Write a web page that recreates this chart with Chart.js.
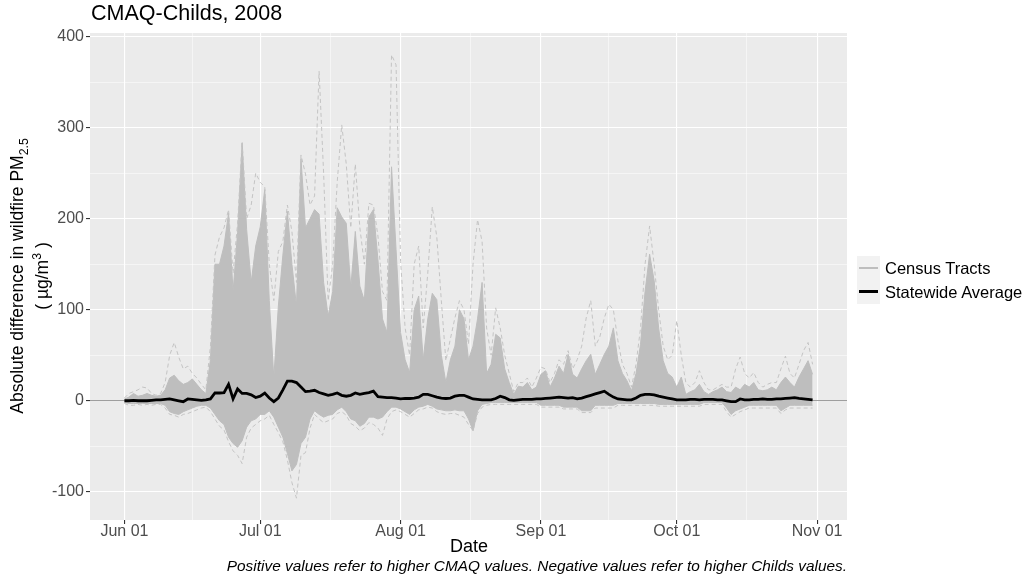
<!DOCTYPE html>
<html>
<head>
<meta charset="utf-8">
<script src="https://cdn.jsdelivr.net/npm/chart.js@4.4.1/dist/chart.umd.min.js"></script>
<style>
  body { margin: 0; background: #ffffff; font-family: "Liberation Sans", Arial, sans-serif; }
  #wrap { position: relative; width: 1029px; height: 586px; }
  #chart-box { position: absolute; left: 0; top: 0; width: 1029px; height: 586px; }
  .title { position: absolute; left: 91px; top: 1px; font-size: 21.5px; color: #000; white-space: nowrap; }
  .ytitle { position: absolute; left: -170px; top: 251px; width: 400px; height: 50px; line-height: 25px;
            text-align: center; font-size: 17.5px; color: #000; transform: rotate(-90deg); white-space: nowrap; }
  .ytitle sub, .ytitle sup { font-size: 70%; line-height: 0; }
  .xtitle { position: absolute; left: 369px; width: 200px; top: 536px; text-align: center; font-size: 18px; color: #000; }
  .caption { position: absolute; right: 182px; top: 557px; font-size: 15.4px; font-style: italic; color: #000; white-space: nowrap; }
  .legend { position: absolute; left: 857px; top: 256px; }
  .legend .row { display: flex; align-items: center; height: 24px; }
  .legend .key { width: 23px; height: 24px; background: #f2f2f2; position: relative; }
  .legend .key span { position: absolute; left: 2px; right: 2px; top: 11px; }
  .legend .lab { margin-left: 5px; font-size: 16.5px; color: #000; white-space: nowrap; }
</style>
</head>
<body>
<div id="wrap">
  <div id="chart-box"><canvas id="chart-diff"></canvas></div>
  <div class="title">CMAQ-Childs, 2008</div>
  <div class="ytitle">Absolute difference in wildfire PM<sub>2.5</sub><br>( µg/m<sup>3</sup> )</div>
  <div class="xtitle">Date</div>
  <div class="caption">Positive values refer to higher CMAQ values. Negative values refer to higher Childs values.</div>
  <div class="legend">
    <div class="row"><div class="key"><span style="border-top:2px solid #bebebe"></span></div><div class="lab">Census Tracts</div></div>
    <div class="row"><div class="key"><span style="border-top:3px solid #000; top:10px"></span></div><div class="lab">Statewide Average</div></div>
  </div>
</div>
<script>
// days counted from 2008-06-01 (day 0) to 2008-10-31 (day 152)
const X_TICK_DAYS = [0, 30, 61, 92, 122, 153];
const X_TICK_LABELS = ["Jun 01", "Jul 01", "Aug 01", "Sep 01", "Oct 01", "Nov 01"];
const X_MINOR_DAYS = [15, 45.5, 76.5, 107, 137.5];
const Y_MAJOR = [-100, 0, 100, 200, 300, 400];
const Y_MINOR = [-50, 50, 150, 250, 350];

// statewide average difference
const statewide = [
  0, 0, 0.5, 0, 0, 0, 0.5, 1, 1, 1.5,
  2, 1, 0, -1, 2, 1.5, 1, 0.5, 1, 2,
  8.5, 8.5, 9, 18, 2, 13, 8, 8, 6.5, 3.5,
  5, 8.5, 3, -1, 3, 12, 21.5, 21.5, 20, 15,
  10, 10.5, 11.5, 9, 7.5, 6, 7, 8.5, 6, 5,
  6, 8.5, 7, 8, 9, 10.5, 4.5, 4, 3.5, 3.5,
  3, 2, 2.5, 2.5, 3, 4, 7, 7, 5.5, 4,
  3, 2.5, 3, 5, 6, 6, 4, 2, 1.5, 1,
  1, 1, 2.5, 5, 3.5, 1, 0.5, 1, 1.5, 1.5,
  1.5, 2, 2, 2.5, 3, 3.5, 4, 3.5, 3, 3.5,
  2, 3, 4.5, 6, 7.5, 9, 10.5, 7, 4, 2,
  1.5, 1, 1, 3, 6, 7, 7, 6.5, 5, 4,
  3, 2, 1, 1, 1, 1.5, 1.5, 1, 1.5, 1.5,
  1.5, 1, 1, 0, -1, -1, 2, 1, 1, 1.5,
  1.5, 2, 1.5, 1.5, 2, 2, 2.5, 3, 3.5, 2.5,
  2, 1.5, 1,
];

// dense band of census tracts (upper / lower edge)
const tractHigh = [
  2, 4, 8, 5, 6, 8, 6, 5, 6, 12,
  25, 28, 22, 18, 20, 24, 18, 12, 8, 45,
  150, 150, 170, 206, 120, 185, 283, 188, 130, 170,
  191, 232, 110, 25, 104, 160, 208, 150, 104, 266,
  190, 200, 210, 205, 130, 93, 120, 212, 202, 195,
  124, 186, 126, 110, 202, 210, 155, 90, 75, 257,
  166, 75, 45, 31, 100, 115, 45, 90, 118, 111,
  50, 20, 45, 60, 100, 90, 45, 60, 90, 130,
  30, 40, 73, 69, 35, 20, 7, 16, 15, 20,
  12, 15, 29, 33, 15, 25, 38, 30, 51, 29,
  25, 35, 44, 51, 29, 40, 51, 60, 80, 44,
  30, 22, 11, 30, 62, 120, 161, 132, 80, 44,
  30, 26, 15, 26, 7, 10, 12, 18, 10, 7,
  10, 12, 15, 10, 9, 15, 12, 18, 15, 20,
  12, 11, 12, 15, 12, 20, 26, 20, 15, 26,
  35, 44, 29,
];
const tractLow = [
  -2, -3, -3, -3, -3, -3, -3, -3, -3, -5,
  -12, -14, -15, -12, -10, -8, -6, -5, -5, -8,
  -15, -22, -26, -40, -47, -51, -44, -29, -22, -20,
  -15, -15, -11, -18, -29, -40, -58, -77, -70, -47,
  -40, -20, -11, -15, -18, -16, -15, -10, -7, -12,
  -20, -22, -28, -25, -18, -18, -20, -18, -12, -7,
  -7, -9, -12, -15, -10, -7, -6, -4, -6, -9,
  -10, -11, -11, -10, -11, -11, -20, -33, -11, -4,
  -3, -2, -2, -2, -2, -2, -2, -2, -2, -2,
  -2, -2, -5, -5, -5, -5, -5, -7, -7, -7,
  -7, -11, -11, -11, -5, -5, -5, -5, -5, -3,
  -3, -3, -3, -3, -3, -3, -3, -3, -4, -4,
  -4, -4, -4, -4, -4, -4, -4, -4, -2, -2,
  -2, -2, -2, -8, -15, -11, -9, -7, -5, -5,
  -5, -5, -5, -5, -5, -11, -8, -5, -5, -5,
  -5, -5, -5,
];

// extreme tracts (dashed outliers above / below the band)
const tractMax = [
  3, 8, 10, 12, 15, 14, 8, 6, 8, 20,
  50, 64, 48, 35, 38, 30, 25, 18, 12, 60,
  160, 180, 190, 210, 140, 195, 285, 200, 215, 250,
  240, 235, 150, 110, 164, 175, 215, 186, 130, 270,
  249, 215, 225, 362, 250, 110, 150, 240, 303, 260,
  190, 260, 190, 150, 217, 215, 181, 120, 110, 380,
  369, 153, 80, 50, 150, 170, 80, 140, 213, 180,
  110, 44, 68, 91, 110, 100, 62, 150, 199, 175,
  80, 50, 102, 80, 50, 30, 10, 20, 20, 25,
  15, 25, 37, 35, 20, 30, 45, 40, 55, 35,
  45, 60, 91, 110, 60, 70, 91, 106, 100, 66,
  40, 30, 15, 40, 80, 150, 192, 150, 100, 60,
  45, 50, 88, 50, 20, 15, 20, 33, 20, 12,
  12, 15, 18, 15, 15, 35, 48, 30, 25, 31,
  20, 15, 18, 20, 20, 35, 49, 30, 25, 40,
  55, 64, 40,
];
const tractMin = [
  -3, -5, -5, -4, -5, -4, -5, -4, -4, -8,
  -15, -16, -18, -15, -14, -12, -10, -8, -7, -12,
  -20, -28, -32, -45, -55, -60, -69, -40, -30, -26,
  -22, -20, -16, -26, -35, -45, -65, -90, -107, -60,
  -57, -30, -15, -20, -24, -22, -20, -14, -12, -16,
  -25, -28, -33, -30, -24, -26, -30, -38, -20, -12,
  -10, -12, -15, -18, -14, -10, -9, -7, -8, -12,
  -14, -15, -14, -14, -16, -18, -26, -33, -14, -7,
  -5, -4, -4, -4, -4, -4, -4, -4, -4, -4,
  -4, -4, -7, -7, -7, -7, -7, -9, -9, -9,
  -9, -13, -13, -13, -8, -8, -8, -8, -8, -5,
  -5, -5, -5, -5, -5, -5, -5, -5, -6, -6,
  -6, -6, -6, -6, -6, -6, -6, -6, -4, -4,
  -4, -4, -4, -12, -18, -15, -12, -10, -8, -8,
  -8, -8, -8, -8, -8, -14, -10, -8, -8, -8,
  -8, -8, -8,
];

const GREY = "#bebebe";
const toXY = (arr) => arr.map((v, i) => ({ x: i, y: v }));
const isMajorY = (v) => Y_MAJOR.includes(v);
const isMajorX = (v) => X_TICK_DAYS.includes(v);

Chart.defaults.font.family = '"Liberation Sans", Arial, sans-serif';

const panelBg = {
  id: "panelBg",
  beforeDraw(chart) {
    const { ctx, chartArea: a } = chart;
    ctx.save();
    ctx.fillStyle = "#ebebeb";
    ctx.fillRect(a.left, a.top, a.right - a.left, a.bottom - a.top);
    ctx.restore();
  },
};

new Chart(document.getElementById("chart-diff"), {
  type: "line",
  data: {
    datasets: [
      {
        label: "Statewide Average",
        data: toXY(statewide),
        borderColor: "#000000",
        borderWidth: 2.8,
        pointRadius: 0,
        order: 0,
      },
      {
        label: "tract max",
        data: toXY(tractMax),
        borderColor: "#c4c4c4",
        borderWidth: 1,
        borderDash: [4, 3],
        pointRadius: 0,
        order: 1,
      },
      {
        label: "tract min",
        data: toXY(tractMin),
        borderColor: "#c4c4c4",
        borderWidth: 1,
        borderDash: [4, 3],
        pointRadius: 0,
        order: 1,
      },
      {
        label: "Census Tracts",
        data: toXY(tractHigh),
        borderColor: GREY,
        backgroundColor: GREY,
        borderWidth: 1,
        pointRadius: 0,
        fill: "+1",
        order: 2,
      },
      {
        label: "tract low",
        data: toXY(tractLow),
        borderColor: GREY,
        borderWidth: 1,
        pointRadius: 0,
        order: 2,
      },
    ],
  },
  options: {
    responsive: true,
    maintainAspectRatio: false,
    animation: false,
    layout: { padding: { left: 0, top: 33, right: 182, bottom: 0 } },
    plugins: { legend: { display: false }, tooltip: { enabled: false } },
    scales: {
      x: {
        type: "linear",
        min: -7.6,
        max: 159.6,
        afterFit: (s) => { s.height = 66; },
        afterBuildTicks: (s) => {
          s.ticks = [...X_TICK_DAYS, ...X_MINOR_DAYS].sort((a, b) => a - b).map((v) => ({ value: v }));
        },
        border: { display: false },
        grid: {
          color: "#ffffff",
          lineWidth: (c) => (c.tick && isMajorX(c.tick.value) ? 1.1 : 0.5),
          tickColor: (c) => (c.tick && isMajorX(c.tick.value) ? "#333333" : "rgba(0,0,0,0)"),
          tickLength: 4,
        },
        ticks: {
          autoSkip: false,
          maxRotation: 0,
          padding: -2,
          color: "#4d4d4d",
          font: { size: 16 },
          callback: (v) => {
            const i = X_TICK_DAYS.indexOf(v);
            return i >= 0 ? X_TICK_LABELS[i] : "";
          },
        },
      },
      y: {
        min: -131,
        max: 404,
        afterFit: (s) => { s.width = 90; },
        afterBuildTicks: (s) => {
          s.ticks = [...Y_MAJOR, ...Y_MINOR].sort((a, b) => a - b).map((v) => ({ value: v }));
        },
        border: { display: false },
        grid: {
          color: (c) => (c.tick && c.tick.value === 0 ? "#9e9e9e" : "#ffffff"),
          lineWidth: (c) => (c.tick && isMajorY(c.tick.value) ? 1.1 : 0.5),
          tickColor: (c) => (c.tick && isMajorY(c.tick.value) ? "#333333" : "rgba(0,0,0,0)"),
          tickLength: 4,
        },
        ticks: {
          autoSkip: false,
          padding: 2,
          color: "#4d4d4d",
          font: { size: 16 },
          callback: (v) => (isMajorY(v) ? v : ""),
        },
      },
    },
  },
  plugins: [panelBg],
});
</script>
</body>
</html>
